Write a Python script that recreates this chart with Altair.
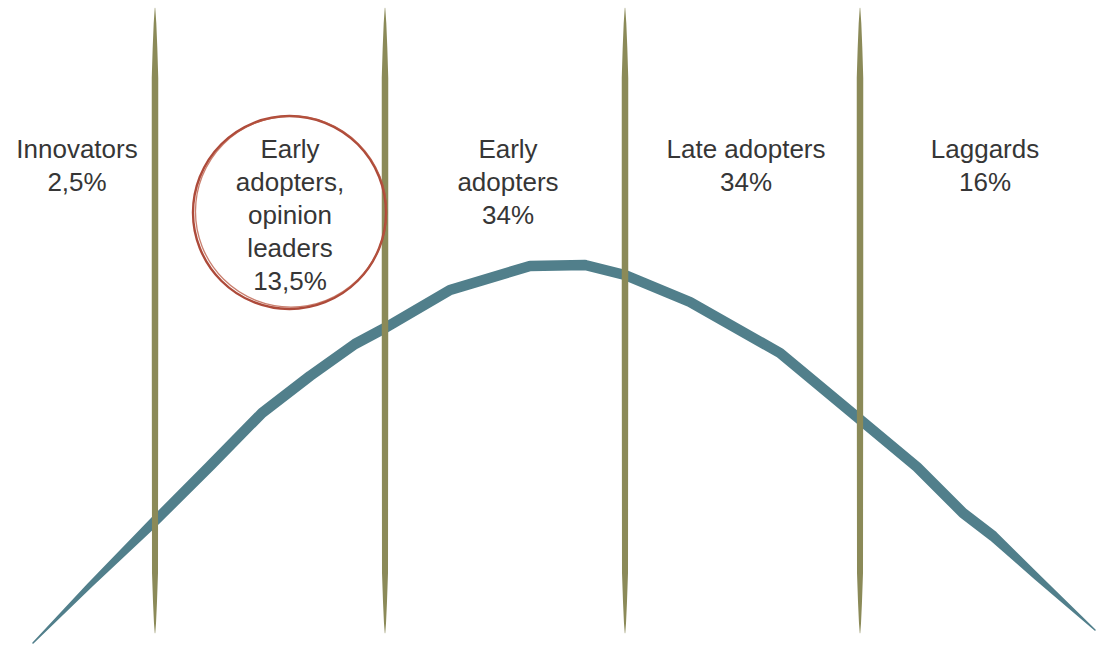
import altair as alt
import pandas as pd

# ---- data (x: 0..1102 across, y: height above bottom 0..648) ----
curve_x = [33, 90, 155, 210, 262, 310, 355, 385, 450, 530, 585, 625, 690, 780, 857, 917, 963, 993, 1037, 1095]
curve_y = [5, 63, 127, 182, 235, 272, 304, 320, 358, 382, 383, 373, 346, 295, 231, 181, 135, 112, 71, 18]

divider_x = [155, 385, 625, 860]
divider_span = [15, 25, 45, 75, 330, 570, 600, 625, 640]

group_labels = [
    "Innovators\n2,5%",
    "Early\nadopters,\nopinion\nleaders\n13,5%",
    "Early\nadopters\n34%",
    "Late adopters\n34%",
    "Laggards\n16%",
]
group_x = [77, 290, 508, 746, 985]
label_top = 511

circle_x = [289.5]
circle_y = [435.5]

# ---- tables ----
curve_df = pd.DataFrame({"x": curve_x, "y": curve_y})
div_df = pd.DataFrame(
    [{"d": i, "x": dx, "y": yy} for i, dx in enumerate(divider_x) for yy in divider_span]
)
text_df = pd.DataFrame({"label": group_labels, "x": group_x, "y": [label_top] * len(group_x)})
circ_df = pd.DataFrame({"x": circle_x, "y": circle_y})

xs = alt.Scale(domain=[0, 1102], nice=False, zero=False)
ys = alt.Scale(domain=[0, 648], nice=False, zero=False)
X = lambda: alt.X("x:Q", scale=xs, axis=None)
Y = lambda: alt.Y("y:Q", scale=ys, axis=None)

curve = (
    alt.Chart(curve_df)
    .transform_calculate(
        w="min(10.5, 1.5 + (datum.x - 33) * 0.07, 1.5 + (1095 - datum.x) * 0.09)"
    )
    .mark_trail(color="#517f8b")
    .encode(x=X(), y=Y(), size=alt.Size("w:Q", scale=None, legend=None))
)

dividers = (
    alt.Chart(div_df)
    .transform_calculate(
        w="min(6.5, 0.5 + pow(max(0, min(datum.y - 15, 640 - datum.y)) / 60, 0.7) * 5.5)"
    )
    .mark_trail(color="#8b8a58")
    .encode(
        x=X(),
        y=Y(),
        detail="d:N",
        order=alt.Order("y:Q"),
        size=alt.Size("w:Q", scale=None, legend=None),
    )
)

labels = (
    alt.Chart(text_df)
    .mark_text(
        font="Liberation Sans",
        fontSize=26,
        lineHeight=33,
        lineBreak="\n",
        align="center",
        baseline="top",
        color="#363636",
    )
    .encode(x=X(), y=Y(), text="label:N")
)

ring1 = alt.Chart(circ_df).mark_point(
    shape="circle", filled=False, size=37250, stroke="#ad4a3a", strokeWidth=2.4, opacity=1
).encode(x=X(), y=Y())
ring2 = alt.Chart(circ_df).mark_point(
    shape="circle", filled=False, size=36500, stroke="#b8553f", strokeWidth=1.3, opacity=0.75,
    xOffset=1.5, yOffset=-1,
).encode(x=X(), y=Y())

chart = (
    alt.layer(curve, dividers, labels, ring1, ring2)
    .properties(width=1102, height=648, padding=0, autosize=alt.AutoSizeParams(type="none"),
                background="white")
    .configure_view(stroke=None)
)

chart.save("out.html", embed_options={"renderer": "svg", "actions": False})
